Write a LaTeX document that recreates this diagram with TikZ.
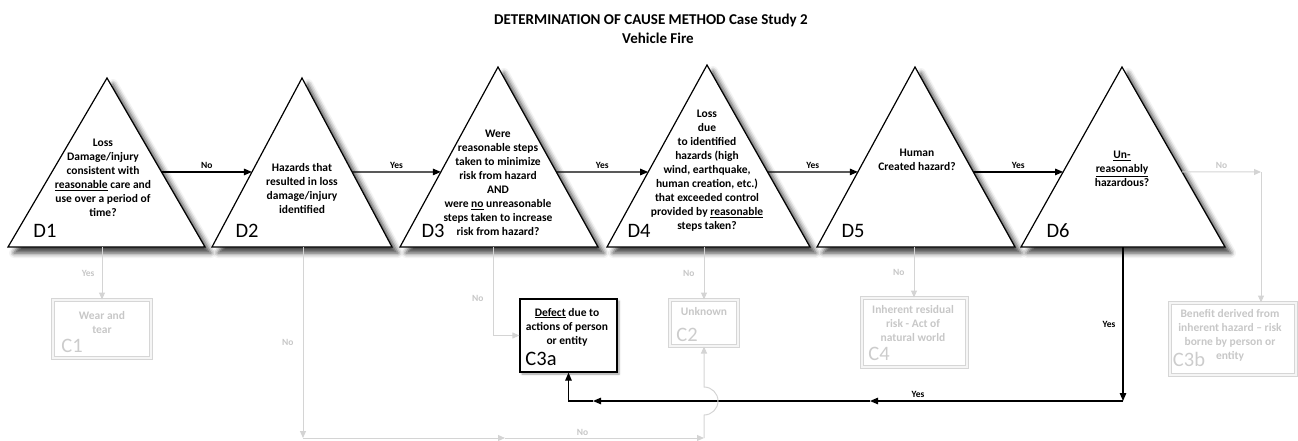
\documentclass[tikz,border=0pt]{standalone}
\usepackage{fontspec}
\setmainfont{Carlito}
\usetikzlibrary{arrows.meta, positioning, calc, shadows.blur}

\begin{document}
\begin{tikzpicture}[x=1pt, y=-1pt]
    % --- Style Definitions ---
    \tikzset{
        % Decision triangles
        tri style/.style={
            draw=black,
            line width=1.2pt,
            fill=white,
            line join=miter,
            blur shadow={shadow xshift=6pt, shadow yshift=-6pt, shadow blur radius=5pt, shadow opacity=75}
        },
        % Outcome boxes
        cause box/.style={
            draw=black,
            line width=1.2pt,
            fill=white,
            inner sep=0pt,
            blur shadow={shadow xshift=2pt, shadow yshift=-2pt, shadow blur radius=2pt, shadow opacity=40}
        },
        faded box/.style={
            draw=black!16,
            line width=1pt,
            double=black!4,
            double distance=2pt,
            inner sep=0pt
        },
        % Text styling
        title text/.style={font=\bfseries\fontsize{15}{17}\selectfont},
        q text/.style={font=\bfseries\fontsize{11.5}{14}\selectfont, align=center, inner sep=0pt},
        faded text/.style={q text, text=black!22},
        tag text/.style={font=\fontsize{20.5}{22}\selectfont, inner sep=0pt},
        faded tag/.style={tag text, text=black!20},
        flow label/.style={font=\bfseries\fontsize{9.5}{11}\selectfont, inner sep=1pt},
        grey label/.style={flow label, text=black!22},
        % Arrow styling
        main arrow/.style={
            -{Triangle[length=8pt, width=6.5pt]},
            line width=1.2pt,
            black
        },
        grey arrow/.style={
            -{Triangle[length=7pt, width=6pt]},
            line width=1pt,
            black!17
        }
    }

    \useasboundingbox (0,0) rectangle (1298,441);

    % Title
    \node[title text] (title) at (651,20) {DETERMINATION OF CAUSE METHOD Case Study 2};
    \node[title text] (subtitle) at (658,38) {Vehicle Fire};

    % ==========================================
    % DECISION TRIANGLES D1 - D6
    % ==========================================
    \draw[tri style] (107,78) coordinate (d1_top) -- (205,247) coordinate (d1_right) -- (8,247) coordinate (d1_left) -- cycle;
    \draw[tri style] (302,78) coordinate (d2_top) -- (392,247) coordinate (d2_right) -- (212,247) coordinate (d2_left) -- cycle;
    \draw[tri style] (498,67) coordinate (d3_top) -- (598,247) coordinate (d3_right) -- (400,247) coordinate (d3_left) -- cycle;
    \draw[tri style] (707,65) coordinate (d4_top) -- (810,247) coordinate (d4_right) -- (607,247) coordinate (d4_left) -- cycle;
    \draw[tri style] (915,67) coordinate (d5_top) -- (1015,247) coordinate (d5_right) -- (817,247) coordinate (d5_left) -- cycle;
    \draw[tri style] (1122,67) coordinate (d6_top) -- (1225,247) coordinate (d6_right) -- (1021,247) coordinate (d6_left) -- cycle;

    % Questions
    \node[q text] (d1_txt) at (103,178) {Loss\\Damage/injury\\consistent with\\\underline{reasonable} care and\\use over a period of\\time?};
    \node[q text] (d2_txt) at (302,189) {Hazards that\\resulted in loss\\damage/injury\\identified};
    \node[q text] (d3_txt) at (498,183) {Were\\reasonable steps\\taken to minimize\\risk from hazard\\AND\\were \underline{no} unreasonable\\steps taken to increase\\risk from hazard?};
    \node[q text] (d4_txt) at (707,171) {Loss\\due\\to identified\\hazards (high\\wind, earthquake,\\human creation, etc.)\\that exceeded control\\provided by \underline{reasonable}\\steps taken?};
    \node[q text] (d5_txt) at (917,160) {Human\\Created hazard?};
    \node[q text] (d6_txt) at (1122,169) {\underline{Un-}\\\underline{reasonably}\\hazardous?};

    % Tags
    \node[tag text] (d1_tag) at (45,231) {D1};
    \node[tag text] (d2_tag) at (247,231) {D2};
    \node[tag text] (d3_tag) at (433,231) {D3};
    \node[tag text] (d4_tag) at (639,231) {D4};
    \node[tag text] (d5_tag) at (853,231) {D5};
    \node[tag text] (d6_tag) at (1058,231) {D6};

    % Connection points on the triangle sides
    \coordinate (d1_out) at ($(d1_right)!0.444!(d1_top)$);
    \coordinate (d2_in)  at ($(d2_left)!0.444!(d2_top)$);
    \coordinate (d2_out) at ($(d2_right)!0.444!(d2_top)$);
    \coordinate (d3_in)  at ($(d3_left)!0.417!(d3_top)$);
    \coordinate (d3_out) at ($(d3_right)!0.417!(d3_top)$);
    \coordinate (d4_in)  at ($(d4_left)!0.412!(d4_top)$);
    \coordinate (d4_out) at ($(d4_right)!0.412!(d4_top)$);
    \coordinate (d5_in)  at ($(d5_left)!0.417!(d5_top)$);
    \coordinate (d5_out) at ($(d5_right)!0.417!(d5_top)$);
    \coordinate (d6_in)  at ($(d6_left)!0.417!(d6_top)$);
    \coordinate (d6_out) at ($(d6_right)!0.417!(d6_top)$);

    \coordinate (d1_bot) at (102,247);
    \coordinate (d2_bot) at (303,247);
    \coordinate (d3_bot) at (493,247);
    \coordinate (d4_bot) at (704,247);
    \coordinate (d5_bot) at (914,247);
    \coordinate (d6_bot) at (1123,247);

    % Main flow
    \draw[main arrow] (d1_out) -- node[flow label, above=2pt] {No} (d2_in);
    \draw[main arrow] (d2_out) -- node[flow label, above=2pt] {Yes} (d3_in);
    \draw[main arrow] (d3_out) -- node[flow label, above=2pt] {Yes} (d4_in);
    \draw[main arrow] (d4_out) -- node[flow label, above=2pt] {Yes} (d5_in);
    \draw[main arrow] (d5_out) -- node[flow label, above=2pt] {Yes} (d6_in);

    % ==========================================
    % OUTCOMES C1 - C4
    % ==========================================
    \node[faded box, minimum width=98pt, minimum height=58pt] (c1_box) at (102,329) {};
    \node[faded text] (c1_txt) at (102,323) {Wear and\\tear};
    \node[faded tag] (c1_tag) at (72,346) {C1};

    \node[faded box, minimum width=68pt, minimum height=46pt] (c2_box) at (704,323) {};
    \node[faded text] (c2_txt) at (704,312) {Unknown};
    \node[faded tag] (c2_tag) at (687,335) {C2};

    \node[cause box, minimum width=97pt, minimum height=73pt] (c3a_box) at (568.5,335.5) {};
    \node[q text] (c3a_txt) at (567,327) {\underline{Defect} due to\\actions of person\\or entity};
    \node[tag text] (c3a_tag) at (541,359) {C3a};

    \node[faded box, minimum width=105pt, minimum height=69pt] (c4_box) at (914,332.5) {};
    \node[faded text] (c4_txt) at (913,324) {Inherent residual\\risk - Act of\\natural world};
    \node[faded tag] (c4_tag) at (879,354) {C4};

    \node[faded box, minimum width=126pt, minimum height=72pt] (c3b_box) at (1233,339) {};
    \node[faded text] (c3b_txt) at (1230,335) {Benefit derived from\\inherent hazard -- risk\\borne by person or\\entity};
    \node[faded tag] (c3b_tag) at (1189,359) {C3b};

    % Faded branches
    \draw[grey arrow] (d1_bot) -- node[grey label, left=6pt] {Yes} (d1_bot |- c1_box.north);
    \draw[grey arrow] (d3_bot) |- node[grey label, left=8pt, pos=0.29] {No} (c3a_box.west);
    \draw[grey arrow] (d4_bot) -- node[grey label, left=8pt] {No} (c2_box.north);
    \draw[grey arrow] (d5_bot) -- node[grey label, left=8pt] {No} (d5_bot |- c4_box.north);

    \coordinate (d6_no) at (1261,172);
    \draw[grey arrow] (d6_out) -- node[grey label, above=2pt] {No} (d6_no);
    \draw[grey arrow] (d6_no) -- (d6_no |- c3b_box.north);

    % Return to C3a
    \coordinate (ret_corner) at (1123,401);
    \coordinate (ret_mid) at (870,401);
    \coordinate (ret_end) at (593,401);
    \draw[main arrow] (d6_bot) -- node[flow label, left=6pt] {Yes} (ret_corner);
    \draw[main arrow] (ret_corner) -- node[flow label, above=2pt, pos=0.81] {Yes} (ret_mid);
    \draw[main arrow] (ret_mid) -- (ret_end);
    \draw[main arrow] (ret_end) -| (c3a_box.south);

    % Lower faded loop from D2 to C2
    \coordinate (low_left) at (303,438);
    \coordinate (low_mid) at (505,438);
    \coordinate (low_right) at (704,438);
    \draw[grey arrow] (d2_bot) -- node[grey label, left=8pt] {No} (low_left);
    \draw[grey arrow] (low_left) -- (low_mid);
    \draw[grey arrow] (low_mid) -- node[grey label, above=1pt, pos=0.39] {No} (low_right);
    \draw[grey arrow] (low_right) -- (704,415) arc[start angle=-90, end angle=90, radius=14pt] -- (c2_box.south);

\end{tikzpicture}
\end{document}
